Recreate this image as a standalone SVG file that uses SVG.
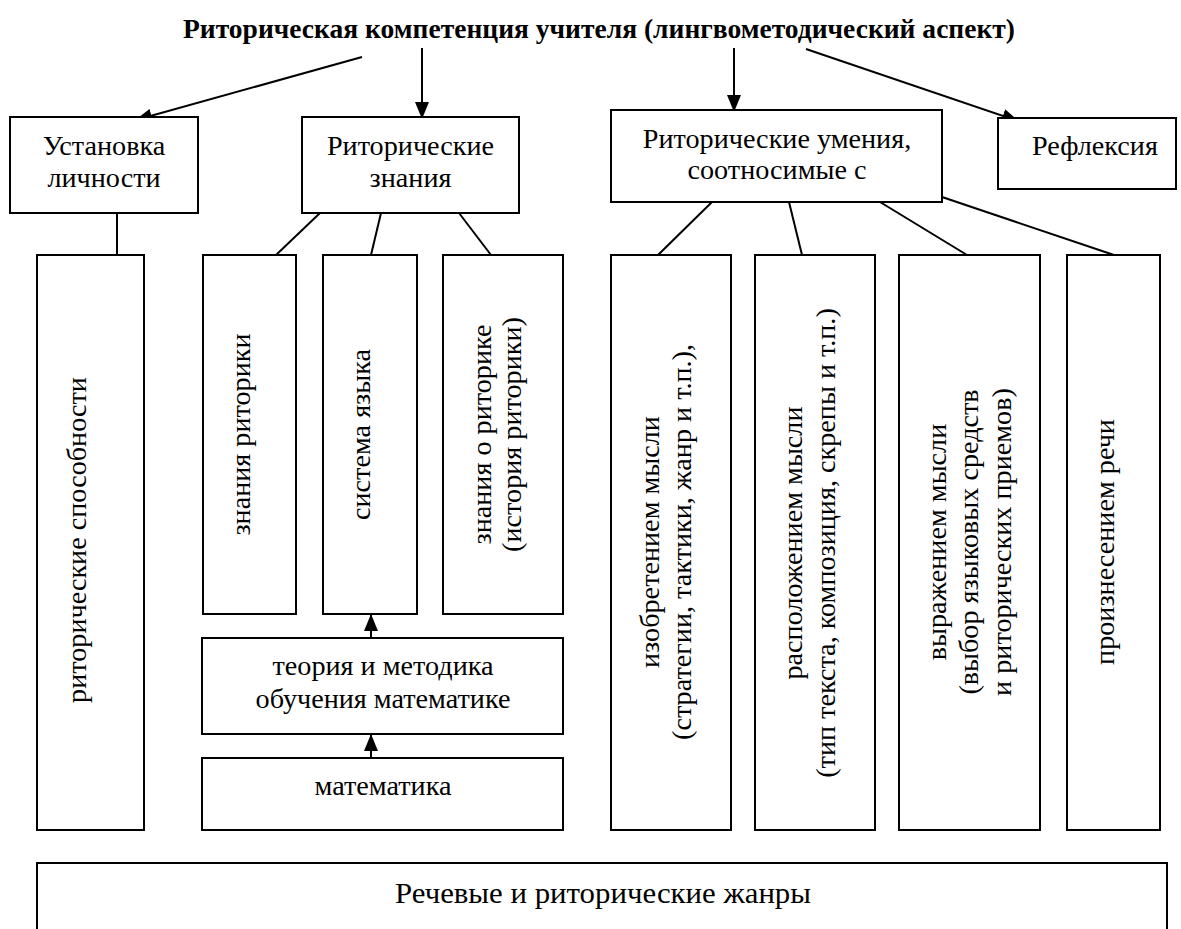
<svg xmlns="http://www.w3.org/2000/svg" width="1181" height="929" viewBox="0 0 1181 929">
<style>
.box{fill:#fff;stroke:#000;stroke-width:2}
.ln{stroke:#000;stroke-width:2;fill:none}
.ar{stroke:#000;stroke-width:2;fill:none;marker-end:url(#ah)}
text{font-family:'Liberation Serif','Times New Roman',serif;font-size:28.2px;font-weight:normal;fill:#000;text-anchor:middle}
text.title{font-weight:bold}
</style>
<defs>
<marker id="ah" markerUnits="userSpaceOnUse" markerWidth="17" markerHeight="14" viewBox="0 0 17 14" refX="16" refY="7" orient="auto">
<path d="M0,0 L17,7 L0,14 z" fill="#000"/>
</marker>
</defs>
<rect x="0" y="0" width="1181" height="929" fill="#fff"/>

<g id="title"><text class="title" x="599" y="38" textLength="832" lengthAdjust="spacingAndGlyphs">Риторическая компетенция учителя (лингвометодический аспект)</text></g>

<g id="connectors">
<line class="ar" x1="362" y1="57" x2="136" y2="120"/>
<line class="ar" x1="422" y1="48" x2="422" y2="118"/>
<line class="ar" x1="734" y1="48" x2="734" y2="111"/>
<line class="ar" x1="806" y1="49" x2="1018" y2="121"/>
<line class="ln" x1="117" y1="213" x2="117" y2="255"/>
<line class="ln" x1="320" y1="213" x2="276" y2="255"/>
<line class="ln" x1="381" y1="213" x2="371" y2="255"/>
<line class="ln" x1="459" y1="213" x2="491" y2="255"/>
<line class="ln" x1="712" y1="202" x2="658" y2="255"/>
<line class="ln" x1="789" y1="202" x2="802" y2="255"/>
<line class="ln" x1="880" y1="202" x2="967" y2="255"/>
<line class="ln" x1="942" y1="197" x2="1114" y2="255"/>
<line class="ar" x1="371" y1="638" x2="371" y2="615"/>
<line class="ar" x1="371" y1="758" x2="371" y2="735"/>
</g>

<g id="ustanovka"><rect class="box" x="10" y="117" width="188" height="96"/><text x="104" y="155">Установка</text><text x="104" y="187">личности</text></g>
<g id="rit-znaniya"><rect class="box" x="302" y="117" width="217" height="96"/><text x="410.5" y="155">Риторические</text><text x="410.5" y="187">знания</text></g>
<g id="rit-umeniya"><rect class="box" x="611" y="110" width="331" height="92"/><text x="777" y="148">Риторические умения,</text><text x="777" y="179">соотносимые с</text></g>
<g id="refleksiya"><rect class="box" x="998" y="118" width="178" height="71"/><text x="1095" y="155">Рефлексия</text></g>

<g id="sposobnosti"><rect class="box" x="37" y="255" width="107" height="575"/><text transform="translate(86,540) rotate(-90)">риторические способности</text></g>
<g id="znaniya-ritoriki"><rect class="box" x="203" y="255" width="93" height="359"/><text transform="translate(250,434.5) rotate(-90)">знания риторики</text></g>
<g id="sistema-yazyka"><rect class="box" x="323" y="255" width="94" height="359"/><text transform="translate(370,434.5) rotate(-90)">система языка</text></g>
<g id="znaniya-o-ritorike"><rect class="box" x="443" y="255" width="120" height="359"/><text transform="translate(491,434.5) rotate(-90)">знания о риторике</text><text transform="translate(521,434.5) rotate(-90)">(история риторики)</text></g>

<g id="teoriya"><rect class="box" x="202" y="638" width="361" height="96"/><text x="383" y="675">теория и методика</text><text x="383" y="708">обучения математике</text></g>
<g id="matematika"><rect class="box" x="202" y="758" width="361" height="72"/><text x="383" y="795">математика</text></g>

<g id="izobretenie"><rect class="box" x="611" y="255" width="120" height="575"/><text transform="translate(658.5,542) rotate(-90)">изобретением мысли</text><text transform="translate(691,542) rotate(-90)">(стратегии, тактики, жанр и т.п.),</text></g>
<g id="raspolozhenie"><rect class="box" x="755" y="255" width="120" height="575"/><text transform="translate(802,543) rotate(-90)">расположением мысли</text><text transform="translate(834.5,543) rotate(-90)">(тип текста, композиция, скрепы и т.п.)</text></g>
<g id="vyrazhenie"><rect class="box" x="899" y="255" width="141" height="575"/><text transform="translate(945.5,542) rotate(-90)">выражением мысли</text><text transform="translate(978,542) rotate(-90)">(выбор языковых средств</text><text transform="translate(1010.5,542) rotate(-90)">и риторических приемов)</text></g>
<g id="proiznesenie"><rect class="box" x="1067" y="255" width="93" height="575"/><text transform="translate(1114,542) rotate(-90)">произнесением речи</text></g>

<g id="zhanry"><rect class="box" x="37" y="863" width="1130" height="80"/><text x="603" y="903" style="font-size:30px" textLength="416" lengthAdjust="spacingAndGlyphs">Речевые и риторические жанры</text></g>
</svg>
